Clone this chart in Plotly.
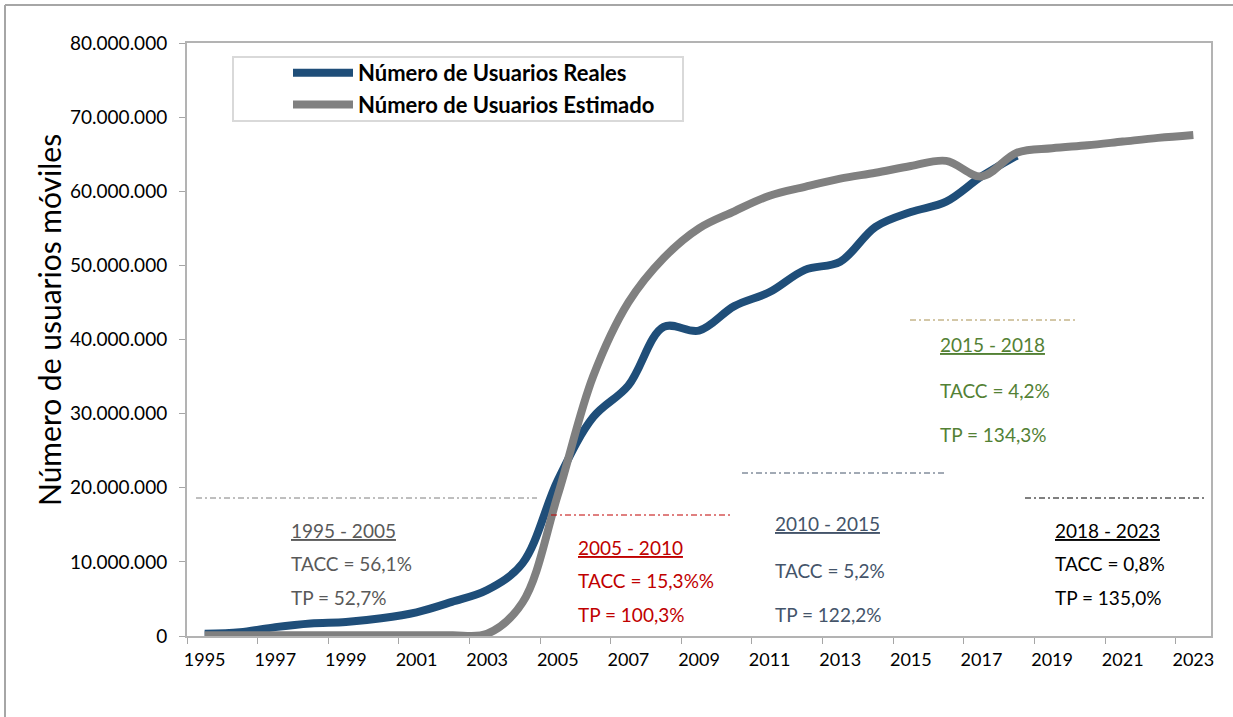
import plotly.graph_objects as go

# datos (millones de usuarios)
years = [str(y) for y in range(1995, 2024)]
years_reales = [str(y) for y in range(1995, 2019)]

usuarios_reales = [0.3, 0.5, 1.2, 1.7, 1.9, 2.4, 3.2, 4.6, 6.2, 9.8,
                   21.0, 29.5, 33.8, 41.7, 41.2, 44.5, 46.4, 49.4, 50.5, 55.2,
                   57.2, 58.6, 62.0, 64.8]
usuarios_estimado = [0.1, 0.1, 0.1, 0.1, 0.1, 0.1, 0.1, 0.1, 0.3, 4.5,
                     19.0, 35.0, 45.0, 51.0, 55.0, 57.3, 59.4, 60.6, 61.7, 62.5,
                     63.4, 64.1, 62.0, 65.2, 65.8, 66.2, 66.7, 67.2, 67.6]

periodos = ["1995 - 2005", "2005 - 2010", "2010 - 2015", "2015 - 2018", "2018 - 2023"]
tacc = ["56,1%", "15,3%%", "5,2%", "4,2%", "0,8%"]
tp = ["52,7%", "100,3%", "122,2%", "134,3%", "135,0%"]

# estilos y posiciones (pixeles de la imagen)
colores_texto = ["#595959", "#c00000", "#44546a", "#538135", "#000000"]
colores_linea = ["#7f7f7f", "#c00000", "#44546a", "#a89050", "#000000"]
lineas_px = [(196, 537, 498), (551, 733, 515), (742, 944, 473), (910, 1075, 320), (1025, 1204, 498)]
textos_px = [(289, (530, 563, 597)), (576, (547, 580, 614)), (773, (523, 570, 614)),
             (938, (345, 391, 435)), (1053, (530, 563, 597))]

L, T, W, H = 187, 43, 1024, 593
FIG_W, FIG_H = 1233, 717
FONT = "Lato"


def px_x(px):
    return (px - L) / W


def px_y(py):
    return (T + H - py) / H


fig = go.Figure()

fig.add_trace(go.Scatter(
    x=years_reales, y=[v * 1e6 for v in usuarios_reales],
    mode="lines", name="Número de Usuarios Reales", legendgroup="a",
    line=dict(color="#1f4e79", width=8, shape="spline", smoothing=1),
))
fig.add_trace(go.Scatter(
    x=years, y=[v * 1e6 for v in usuarios_estimado],
    mode="lines", name="Número de Usuarios Estimado", legendgroup="b",
    line=dict(color="#808080", width=8, shape="spline", smoothing=1),
))

shapes = []
annotations = []
for i, periodo in enumerate(periodos):
    x0, x1, yl = lineas_px[i]
    shapes.append(dict(
        type="line", xref="paper", yref="paper",
        x0=px_x(x0), x1=px_x(x1), y0=px_y(yl), y1=px_y(yl),
        line=dict(color=colores_linea[i], width=1, dash="6px,3px,2px,3px"),
    ))
    tx, tys = textos_px[i]
    lineas = ["<u>" + periodo + "</u>", "TACC = " + tacc[i], "TP = " + tp[i]]
    for texto, ty in zip(lineas, tys):
        annotations.append(dict(
            xref="paper", yref="paper", x=px_x(tx), y=px_y(ty),
            xanchor="left", yanchor="middle", showarrow=False, text=texto,
            font=dict(family=FONT, size=19, color=colores_texto[i]),
        ))

# titulo del eje y
annotations.append(dict(
    xref="paper", yref="paper", x=px_x(49), y=px_y(320),
    xanchor="center", yanchor="middle", showarrow=False, textangle=-90,
    text="Número de usuarios móviles",
    font=dict(family=FONT, size=30, color="black"),
))

# caja de la leyenda
shapes.append(dict(type="rect", xref="paper", yref="paper",
                   x0=px_x(233), x1=px_x(683), y0=px_y(57), y1=px_y(121),
                   line=dict(color="#d9d9d9", width=2)))
# marco exterior
shapes.append(dict(type="line", xref="paper", yref="paper",
                   x0=px_x(5), x1=px_x(1240), y0=px_y(5), y1=px_y(5),
                   line=dict(color="#a6a6a6", width=2)))
shapes.append(dict(type="line", xref="paper", yref="paper",
                   x0=px_x(5), x1=px_x(5), y0=px_y(5), y1=px_y(725),
                   line=dict(color="#a6a6a6", width=2)))

fig.update_layout(
    width=FIG_W, height=FIG_H,
    margin=dict(l=L, r=FIG_W - L - W, t=T, b=FIG_H - T - H),
    paper_bgcolor="white", plot_bgcolor="white",
    separators=",.",
    font=dict(family=FONT, size=18, color="black"),
    shapes=shapes,
    annotations=annotations,
    legend=dict(
        x=px_x(288), y=px_y(52), xanchor="left", yanchor="top",
        bgcolor="rgba(0,0,0,0)", borderwidth=0, tracegroupgap=0,
        itemwidth=60,
        font=dict(family=FONT, size=22, color="black", weight="bold"),
    ),
    showlegend=True,
)

fig.update_xaxes(
    type="category", categoryorder="array", categoryarray=years,
    range=[-0.5, len(years) - 0.5], dtick=2, tickson="boundaries",
    tickangle=0, ticklabelstandoff=6,
    ticks="outside", ticklen=6, tickcolor="#a6a6a6",
    showgrid=False, zeroline=False,
    showline=True, mirror=True, linecolor="#b3b3b3", linewidth=2,
    tickfont=dict(family=FONT, size=18, color="black"),
)
fig.update_yaxes(
    range=[0, 80e6], dtick=10e6, tickformat=",d",
    ticks="outside", ticklen=6, tickcolor="#a6a6a6", ticklabelstandoff=8,
    showgrid=False, zeroline=False,
    showline=True, mirror=True, linecolor="#b3b3b3", linewidth=2,
    tickfont=dict(family=FONT, size=19, color="black"),
)

# quitar el margen del body para que el grafico ocupe la ventana completa
fig.write_html("out.html", config={"displayModeBar": False},
               post_script="document.body.style.margin = '0';")
